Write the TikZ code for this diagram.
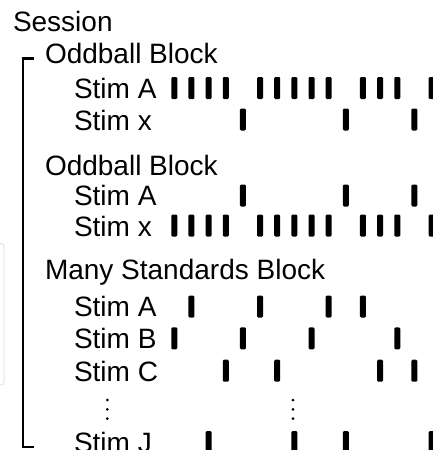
\documentclass[tikz,border=0pt]{standalone}
\usepackage{fontspec}
\setmainfont{Liberation Sans}
\begin{document}
\begin{tikzpicture}[x=1pt,y=-1pt,
  lbl/.style={anchor=base west, inner sep=0pt, outer sep=0pt, font=\fontsize{28}{30}\selectfont},
  bar/.style={fill=black, draw=none, rounded corners=1.2pt, minimum width=6pt, minimum height=22pt, inner sep=0pt, outer sep=0pt},
  vdot/.style={circle, fill=black, draw=none, minimum size=3pt, inner sep=0pt},
  bracket/.style={line width=2.3pt, line join=miter},
  ghostbox/.style={draw=black!14, line width=0.8pt, rounded corners=3pt}]
\useasboundingbox (0,0) rectangle (433,450);
\clip (0,0) rectangle (433,450);
% faint box at the left edge
\draw[ghostbox] (-10,243.5) rectangle (4,385);
% bracket
\coordinate (bt) at (33.5,58.5);
\coordinate (bb) at (33.5,446.7);
\draw[bracket] (bt) -- (23.3,58.5) -- (23.3,446.7) -- (bb);
% labels
\node[lbl] (session) at (13,31.7) {Session};
\node[lbl] (ob1) at (45,63.5) {Oddball Block};
\node[lbl] (ob1a) at (74,98.5) {Stim A};
\node[lbl] (ob1x) at (74,130) {Stim x};
\node[lbl] (ob2) at (45,175) {Oddball Block};
\node[lbl] (ob2a) at (74,205.5) {Stim A};
\node[lbl] (ob2x) at (74,236) {Stim x};
\node[lbl] (ms) at (45,279.3) {Many Standards Block};
\node[lbl] (msa) at (74,316.5) {Stim A};
\node[lbl] (msb) at (74,348.5) {Stim B};
\node[lbl] (msc) at (74,381) {Stim C};
\node[lbl] (msj) at (74,452) {Stim J};
% bars
\foreach \k in {0,1,2,3,5,6,7,8,9,11,12,13,15}
  \node[bar] (o1a-\k) at (174.3+17.15*\k, 88) {};
\foreach \k in {4,10,14}
  \node[bar] (o1x-\k) at (174.3+17.15*\k, 119.5) {};
\foreach \k in {4,10,14}
  \node[bar] (o2a-\k) at (174.3+17.15*\k, 195.5) {};
\foreach \k in {0,1,2,3,5,6,7,8,9,11,12,13,15}
  \node[bar] (o2x-\k) at (174.3+17.15*\k, 225.5) {};
\foreach \k in {1,5,9,11}
  \node[bar] (ma-\k) at (174.3+17.15*\k, 306.5) {};
\foreach \k in {0,4,8,13}
  \node[bar] (mb-\k) at (174.3+17.15*\k, 338.3) {};
\foreach \k in {3,6,12,14}
  \node[bar] (mc-\k) at (174.3+17.15*\k, 370.7) {};
\foreach \k in {2,7,10,15}
  \node[bar] (mj-\k) at (174.3+17.15*\k, 442) {};
% vertical dots
\foreach \y [count=\i] in {400,409.3,418.6} {
  \node[vdot] (dl-\i) at (107.3,\y) {};
  \node[vdot] (dr-\i) at (293,\y) {};
}
\end{tikzpicture}
\end{document}
